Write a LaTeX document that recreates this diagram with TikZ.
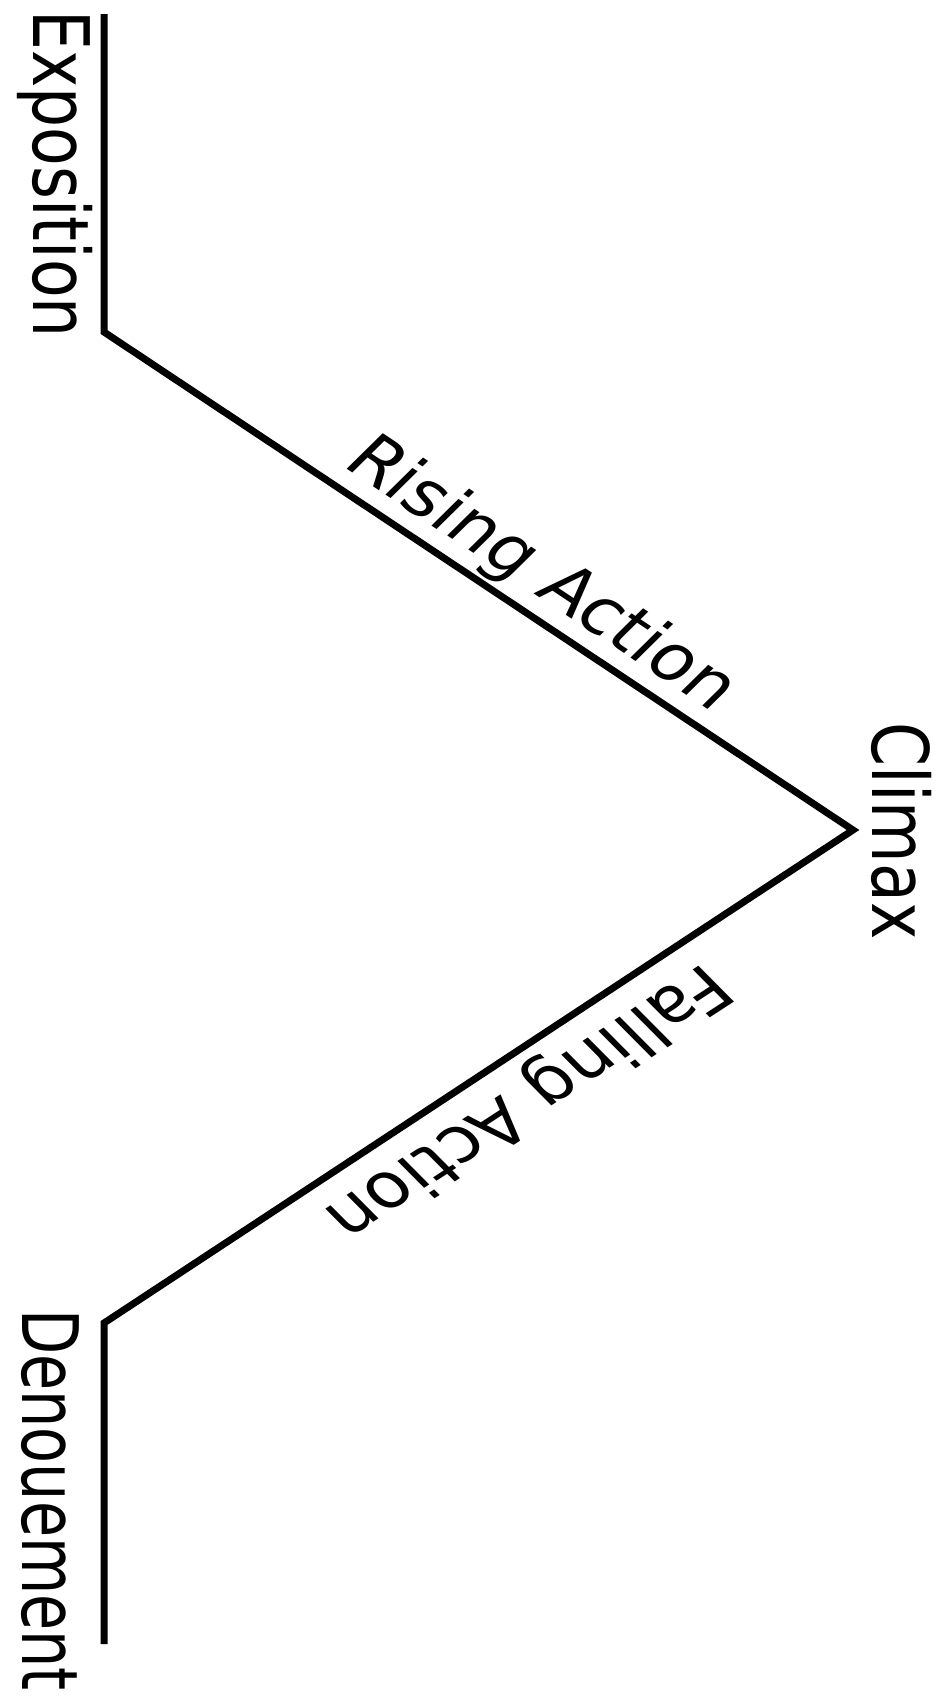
\documentclass[tikz,border=0pt]{standalone}
\usepackage{fontspec}
\setmainfont{DejaVu Sans}
\begin{document}
\begin{tikzpicture}[x=1pt,y=-1pt,
  plotline/.style={line width=7pt, line join=miter, line cap=butt},
  lbl/.style={font=\fontsize{78}{90}\selectfont, inner sep=0pt, yscale=0.81}]
\useasboundingbox[fill=white] (0,0) rectangle (944,1698);
\coordinate (start) at (104,14);
\coordinate (expo) at (104,332);
\coordinate (clim) at (853,830);
\coordinate (deno) at (104,1323);
\coordinate (finish) at (104,1644);
\coordinate (pExpo) at (34,174);
\coordinate (pClim) at (872,831);
\coordinate (pDeno) at (22,1500);
\coordinate (pRise) at (341,465);
\coordinate (pFall) at (705,962);
\draw[plotline] (start) -- (expo) -- (clim) -- (deno) -- (finish);
\node[lbl, rotate=-90, anchor=base] (tExpo) at (pExpo) {Exposition};
\node[lbl, rotate=-90, anchor=base] (tClim) at (pClim) {Climax};
\node[lbl, rotate=-90, xscale=0.93, anchor=base] (tDeno) at (pDeno) {Denouement};
\node[lbl, rotate=-39.4, xscale=0.95, anchor=base west] (tRise) at (pRise) {Rising Action};
\node[lbl, rotate=-141.2, xscale=0.95, anchor=base west] (tFall) at (pFall) {Falling Action};
\end{tikzpicture}
\end{document}
